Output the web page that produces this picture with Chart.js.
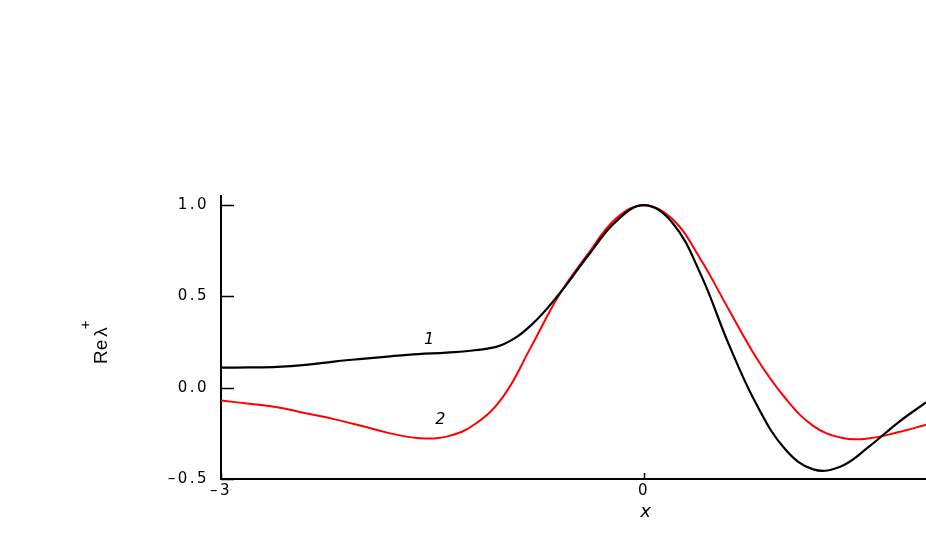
<!DOCTYPE html>
<html>
<head>
<meta charset="utf-8">
<script src="https://cdn.jsdelivr.net/npm/chart.js@4.4.0/dist/chart.umd.min.js"></script>
<style>
  html, body { margin: 0; padding: 0; background: #fff; }
  #wrap { width: 926px; height: 545px; }
</style>
</head>
<body>
<div id="wrap"><canvas id="canvas" width="926" height="545"></canvas></div>
<script>
// x positions where the curves were read (step 0.2)
var xs = [-3.0, -2.8, -2.6, -2.4, -2.2, -2.0, -1.8, -1.6, -1.4, -1.2, -1.0, -0.8, -0.6, -0.4, -0.2, 0, 0.2, 0.4, 0.6, 0.8, 1.0, 1.2, 1.4, 1.6, 1.8, 2.0];

// curve 1 (black)
var re1 = [0.110, 0.111, 0.114, 0.125, 0.143, 0.158, 0.172, 0.184, 0.192, 0.205, 0.236, 0.343, 0.515, 0.72, 0.91, 1.0, 0.905, 0.625, 0.24, -0.095, -0.336, -0.447, -0.43, -0.32, -0.192, -0.08];

// curve 2 (red)
var re2 = [-0.070, -0.088, -0.107, -0.140, -0.172, -0.210, -0.250, -0.276, -0.268, -0.200, -0.050, 0.225, 0.511, 0.73, 0.925, 1.0, 0.925, 0.705, 0.43, 0.16, -0.055, -0.209, -0.274, -0.277, -0.244, -0.203];

var yTicks = [-0.5, 0, 0.5, 1.0];
var xTicks = [-3, 0];

// curve numbers written next to the lines
var curveNames = ['1', '2'];
var nameX = [-1.52, -1.44];
var nameY = [0.26, -0.175];

function toPoints(xv, yv) {
    return xv.map((v, i) => ({ x: v, y: yv[i] }));
}

// inner tick marks, curve numbers and axis titles
var extras = {
    id: 'extras',
    beforeDraw(chart) {
        chart.ctx.letterSpacing = '2.5px';
    },
    afterDraw(chart) {
        var ctx = chart.ctx;
        var sx = chart.scales.x, sy = chart.scales.y;
        ctx.save();
        ctx.letterSpacing = '0px';
        ctx.strokeStyle = '#000';
        ctx.lineWidth = 1.5;
        yTicks.forEach(v => {
            var py = Math.round(sy.getPixelForValue(v)) + 0.5;
            ctx.beginPath();
            ctx.moveTo(sx.left, py);
            ctx.lineTo(sx.left + 13, py);
            ctx.stroke();
        });
        xTicks.forEach(v => {
            var px = Math.round(sx.getPixelForValue(v)) + 0.5;
            ctx.beginPath();
            ctx.moveTo(px, sy.bottom);
            ctx.lineTo(px, sy.bottom - 6);
            ctx.stroke();
        });

        ctx.fillStyle = '#000';
        ctx.textAlign = 'center';
        ctx.textBaseline = 'middle';
        ctx.font = 'italic 16px "DejaVu Sans"';
        ctx.letterSpacing = '1px';
        curveNames.forEach((t, i) => {
            ctx.fillText(t, sx.getPixelForValue(nameX[i]), sy.getPixelForValue(nameY[i]));
        });

        // x title
        ctx.font = 'italic 18px "DejaVu Sans"';
        ctx.fillText('x', sx.getPixelForValue(0) + 2, 512);

        // y title, rotated
        ctx.letterSpacing = '0px';
        ctx.translate(107, 364);
        ctx.rotate(-Math.PI / 2);
        ctx.textAlign = 'left';
        ctx.textBaseline = 'alphabetic';
        ctx.font = '19px "Liberation Sans"';
        ctx.fillText('Re', 0, 0);
        var w = ctx.measureText('Re').width;
        ctx.fillText('\u03bb', w + 3, 0);
        var w2 = ctx.measureText('\u03bb').width;
        ctx.font = '15px "Liberation Sans"';
        ctx.fillText('+', w + 3 + w2 - 2, -17);
        ctx.restore();
    }
};

var ctx = document.getElementById('canvas');

var myChart = new Chart(ctx, {
    type: 'scatter',
    data: {
        datasets: [{
            data: toPoints(xs, re1),
            showLine: true,
            borderColor: '#000000',
            borderWidth: 2.2,
            pointRadius: 0,
            tension: 0.4
        }, {
            data: toPoints(xs, re2),
            showLine: true,
            borderColor: '#ff0000',
            borderWidth: 2,
            pointRadius: 0,
            tension: 0.4
        }]
    },
    options: {
        responsive: false,
        animation: false,
        devicePixelRatio: 1,
        layout: { padding: { top: 196, left: 0, right: 0, bottom: 0 } },
        plugins: {
            legend: { display: false },
            tooltip: { enabled: false }
        },
        scales: {
            x: {
                type: 'linear',
                min: -3,
                max: 2,
                afterFit: s => { s.height = 66; },
                afterBuildTicks: s => { s.ticks = xTicks.map(v => ({ value: v })); },
                grid: { drawOnChartArea: false, drawTicks: false, color: 'transparent' },
                border: { display: true, color: '#000', width: 2 },
                ticks: {
                    padding: 3,
                    color: '#000',
                    maxRotation: 0,
                    font: { family: 'DejaVu Sans', size: 15 },
                    callback: v => String(v).replace('-', '\u2013')
                }
            },
            y: {
                type: 'linear',
                min: -0.5,
                max: 1.05,
                afterFit: s => { s.width = 221; },
                afterBuildTicks: s => { s.ticks = yTicks.map(v => ({ value: v })); },
                grid: { drawOnChartArea: false, drawTicks: false, color: 'transparent' },
                border: { display: true, color: '#000', width: 2 },
                ticks: {
                    padding: 12,
                    color: '#000',
                    font: { family: 'DejaVu Sans', size: 15 },
                    callback: v => v.toFixed(1).replace('-', '\u2013')
                }
            }
        }
    },
    plugins: [extras]
});
</script>
</body>
</html>
